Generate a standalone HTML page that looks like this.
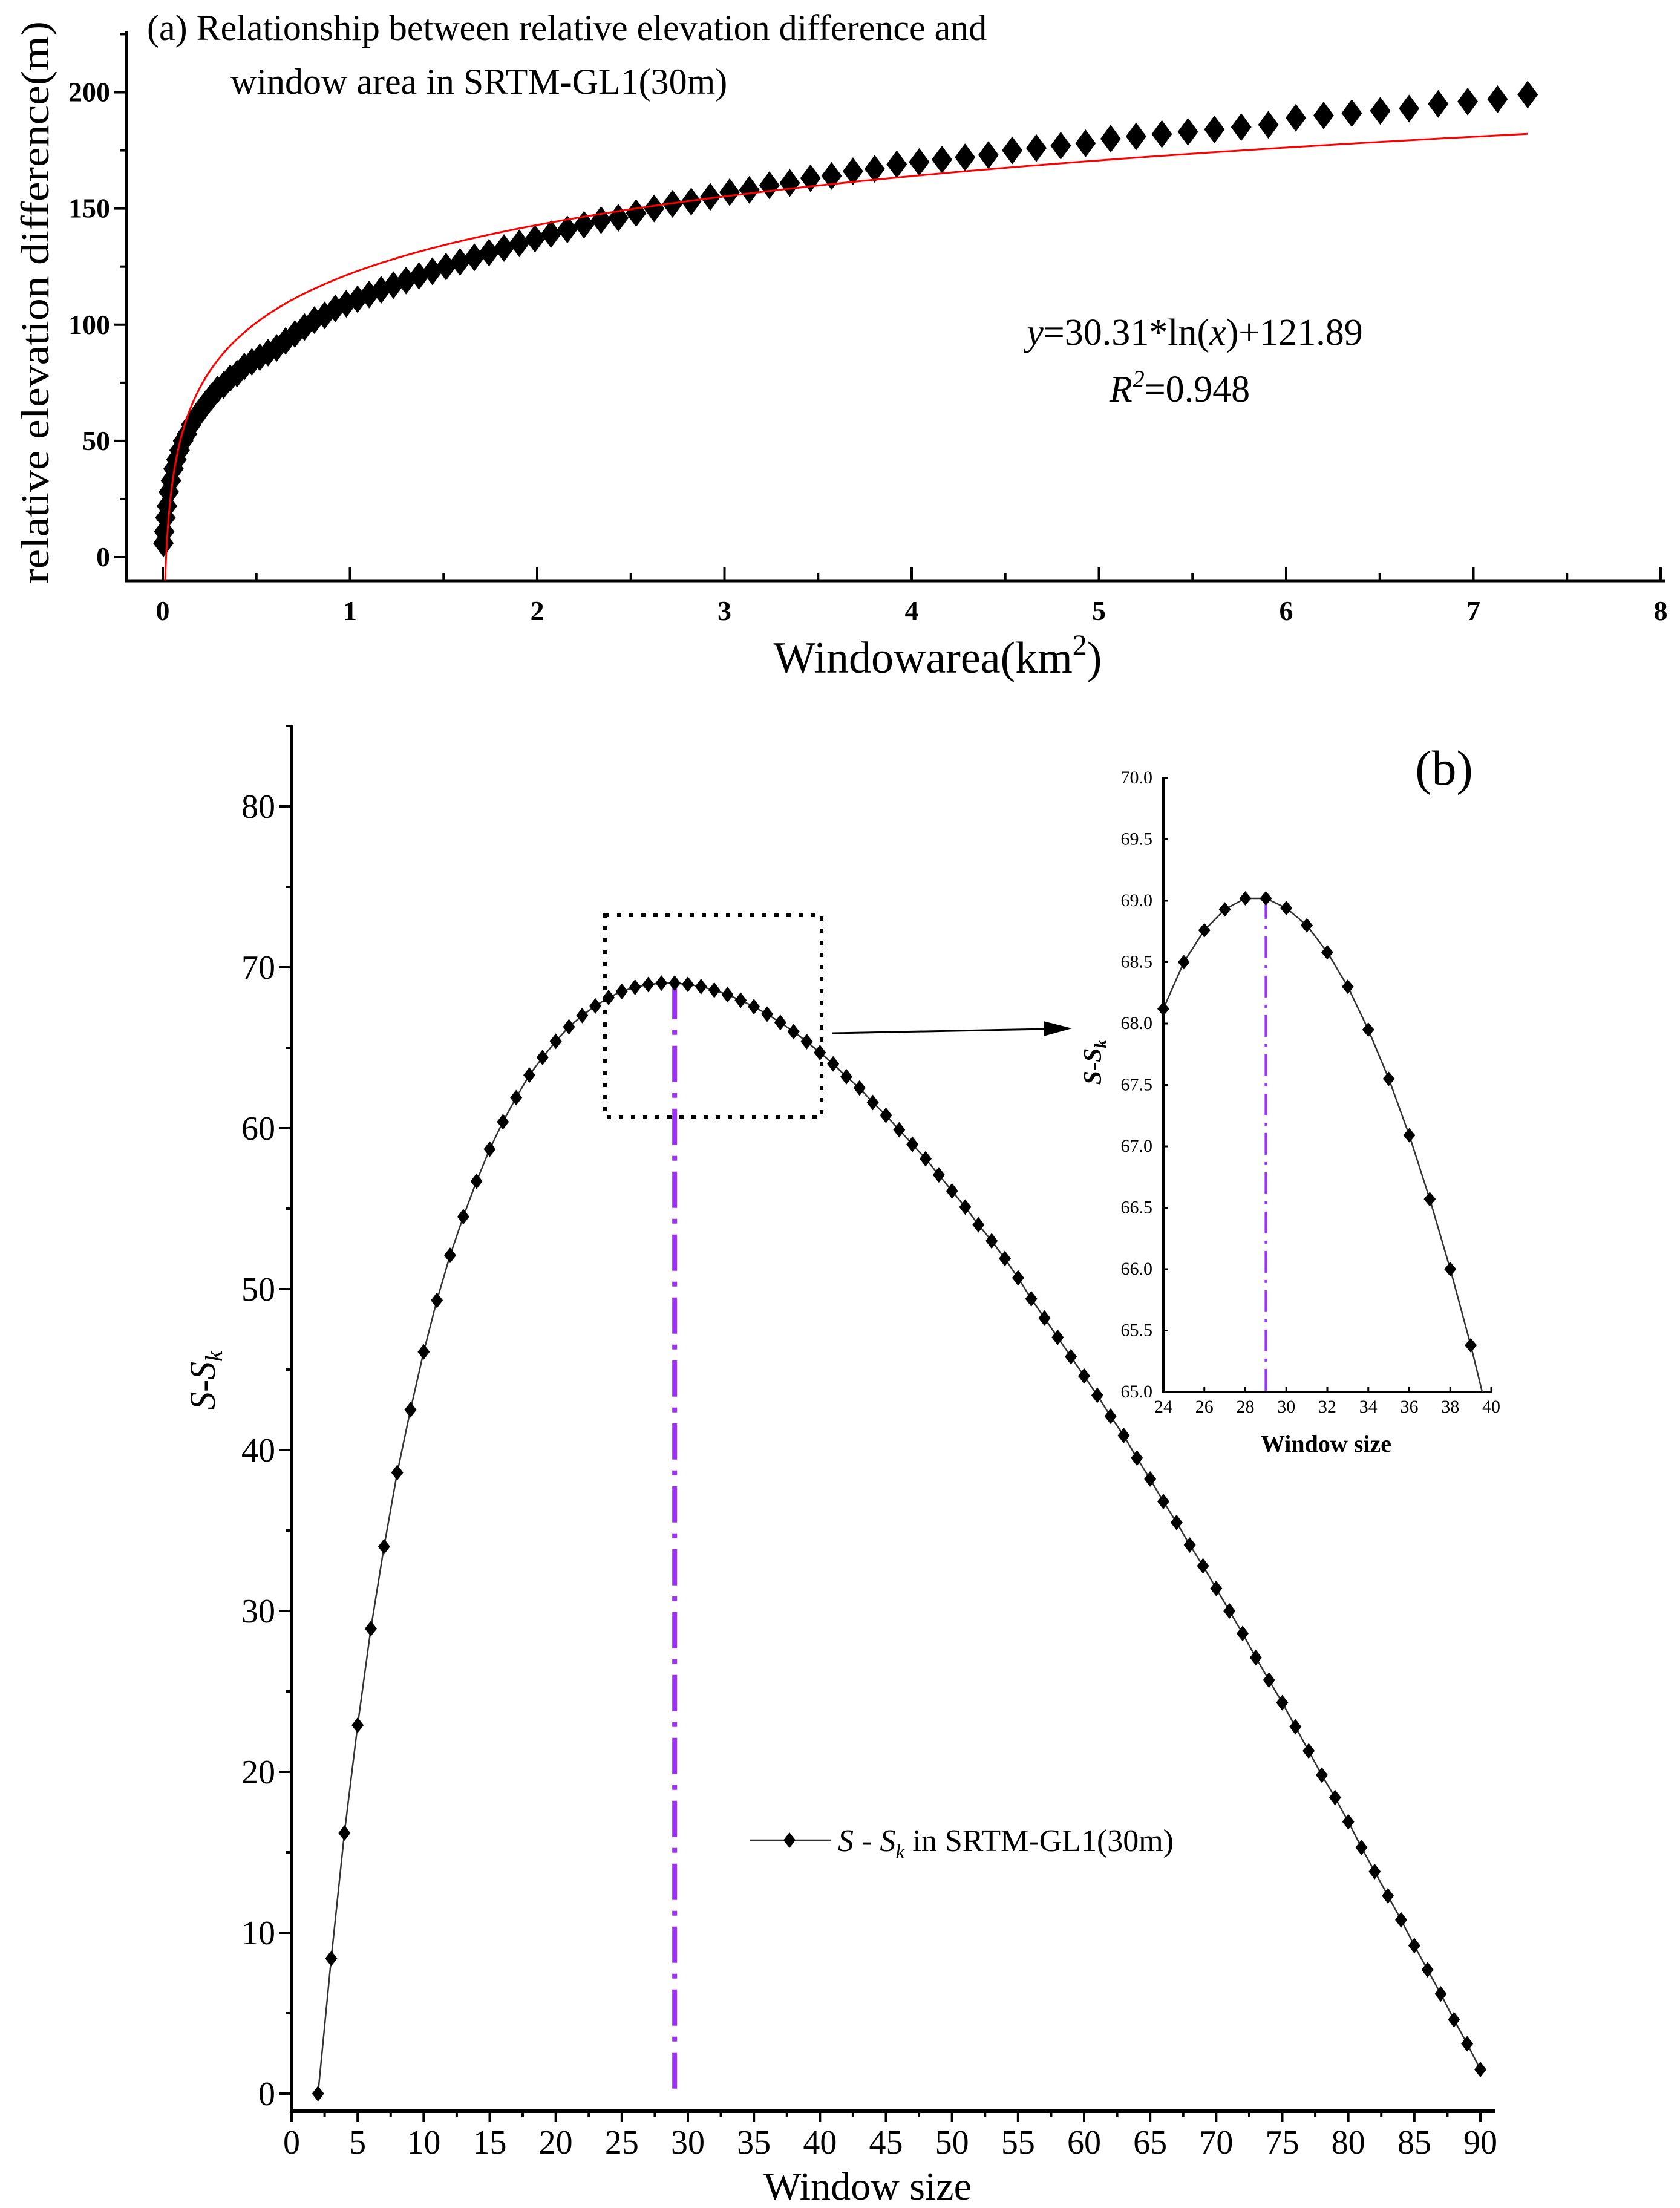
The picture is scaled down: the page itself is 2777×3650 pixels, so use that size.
<!DOCTYPE html>
<html><head><meta charset="utf-8"><style>
html,body{margin:0;padding:0;background:#fff}
svg{display:block;font-family:"Liberation Serif",serif}
</style></head><body>
<svg id="chart" width="2777" height="3650" viewBox="0 0 2777 3650" xmlns="http://www.w3.org/2000/svg">
<rect width="2777" height="3650" fill="#fff"/>
<g id="pa"></g>
<g id="pb"></g>
<g id="pi"></g>
</svg>
<script>
// Panel (a) data: window size n (cells of 30m), relative elevation difference
const aWindowN = [];
for (let n = 2; n <= 90; n++) aWindowN.push(n);
const aElev = [6,11,17,22,28,33,38,42,46,50,53,57,60,63,66,69,72,74,77,79,82,84,86,88,90,93,96,99,102,104,107,109,111,113,115,117,119,121,123,125,127,129,131,133,135,137,139,141,143,145,146,148,150,152,153,155,157,158,160,161,163,164,166,167,169,170,171,172,173,175,176,177,178,180,181,182,183,184,185,186,189,190,191,192,193,195,196,197,199];
const aFitCoef = [30.31, 121.89];
const aXTicks = [0,1,2,3,4,5,6,7,8];
const aYTicks = [0,50,100,150,200];
// Panel (b) data
const bWindow = [];
for (let n = 2; n <= 90; n++) bWindow.push(n);
const bValues = [0,8.4,16.2,22.9,28.9,34.0,38.6,42.5,46.1,49.3,52.1,54.5,56.7,58.7,60.4,61.9,63.3,64.4,65.4,66.3,67.0,67.6,68.12,68.5,68.76,68.93,69.02,69.02,68.94,68.8,68.58,68.3,67.95,67.55,67.09,66.57,66.0,65.38,64.7,64.0,63.2,62.5,61.6,60.8,59.9,59.0,58.1,57.1,56.1,55.1,54.0,53.0,51.9,50.7,49.4,48.2,47.0,45.8,44.6,43.4,42.1,40.9,39.5,38.2,36.8,35.5,34.1,32.8,31.4,30.0,28.6,27.1,25.7,24.3,22.8,21.3,19.8,18.4,16.9,15.3,13.8,12.3,10.8,9.2,7.7,6.2,4.6,3.1,1.5];
const bXTicks = [0,5,10,15,20,25,30,35,40,45,50,55,60,65,70,75,80,85,90];
const bYTicks = [0,10,20,30,40,50,60,70,80];
const bPeak = [29];
const iXTicks = [24,26,28,30,32,34,36,38,40];
const iYTicks = [65.0,65.5,66.0,66.5,67.0,67.5,68.0,68.5,69.0,69.5,70.0];

const NS = "http://www.w3.org/2000/svg";
function mk(parent, tag, attrs, text){
  const e = document.createElementNS(NS, tag);
  for (const k in attrs) e.setAttribute(k, attrs[k]);
  if (text !== undefined) e.textContent = text;
  parent.appendChild(e);
  return e;
}
function diamond(cx, cy, w, h){
  return `M${cx},${cy-h/2} L${cx+w/2},${cy} L${cx},${cy+h/2} L${cx-w/2},${cy} Z`;
}

// ===== Panel (a) =====
(function(){
  const g = document.getElementById('pa');
  const ax = v => 269 + v * (2745 - 269) / 8;
  const ay = v => 921 - v * (921 - 152.5) / 200;
  let e = mk(g,'line',{x1:209,y1:51,x2:209,y2:960,stroke:'#000','stroke-width':5});
   
  e = mk(g,'line',{x1:207,y1:960,x2:2752,y2:960,stroke:'#000','stroke-width':5});
   
  for (let v = 0; v <= 225; v += 25){
    const major = v % 50 === 0;
    mk(g,'line',{x1:209,y1:ay(v),x2:209-(major?20:11),y2:ay(v),stroke:'#000','stroke-width':4});
  }
  aYTicks.forEach(v=>{
    const t = mk(g,'text',{x:182,y:ay(v)+15,'text-anchor':'end','font-size':46,'font-weight':'bold'},String(v));
     
  });
  for (let v = 0; v <= 8; v += 0.5){
    const major = Math.abs(v - Math.round(v)) < 1e-6;
    mk(g,'line',{x1:ax(v),y1:960,x2:ax(v),y2:960-(major?22:12),stroke:'#000','stroke-width':4});
  }
  aXTicks.forEach(v=>{
    const t = mk(g,'text',{x:ax(v),y:1025,'text-anchor':'middle','font-size':46,'font-weight':'bold'},String(v));
     
  });
  let t = mk(g,'text',{x:1550,y:1112,'text-anchor':'middle','font-size':74});
   
  t.innerHTML = 'Windowarea(km<tspan dy="-30" font-size="48">2</tspan><tspan dy="30">)</tspan>';
  t = mk(g,'text',{x:0,y:0,'text-anchor':'middle','font-size':66,textLength:930,lengthAdjust:'spacingAndGlyphs',transform:'translate(80,500) rotate(-90)'},'relative elevation difference(m)');
   
  t = mk(g,'text',{x:243,y:66,'font-size':60},'(a) Relationship between relative elevation difference and');
   
  t = mk(g,'text',{x:381,y:155,'font-size':60},'window area in SRTM-GL1(30m)');
   
  t = mk(g,'text',{x:1975,y:570,'text-anchor':'middle','font-size':62});
   
  t.innerHTML = '<tspan font-style="italic">y</tspan>=30.31*ln(<tspan font-style="italic">x</tspan>)+121.89';
  t = mk(g,'text',{x:1950,y:664,'text-anchor':'middle','font-size':62});
   
  t.innerHTML = '<tspan font-style="italic">R</tspan><tspan dy="-24" font-size="40" font-style="italic">2</tspan><tspan dy="24">=0.948</tspan>';
  const mg = mk(g,'g',{});
   
  aWindowN.forEach((n,i)=>{
    const x = Math.pow(n*0.03,2);
    const p = mk(mg,'path',{d:diamond(ax(x),ay(aElev[i]),34,46),fill:'#000'});
     
  });
  let d = '';
  const xmax = Math.pow(aWindowN[aWindowN.length-1]*0.03,2);
  const yBottom = -10;
  const xStart = Math.exp((yBottom - aFitCoef[1])/aFitCoef[0]);
  for (let k = 0; k <= 600; k++){
    const x = xStart * Math.pow(xmax/xStart, k/600);
    const y = aFitCoef[0]*Math.log(x)+aFitCoef[1];
    d += (k?'L':'M') + ax(x).toFixed(2) + ',' + ay(y).toFixed(2) + ' ';
  }
  const fc = mk(g,'path',{d:d,fill:'none',stroke:'#ff0000','stroke-width':3});
   
})();

// ===== Panel (b) =====
(function(){
  const g = document.getElementById('pb');
  const bx = v => 482 + v * (2447 - 482) / 90;
  const by = v => 3461 - v * (3461 - 1333) / 80;
  let e = mk(g,'line',{x1:482,y1:1198,x2:482,y2:3492,stroke:'#000','stroke-width':6});
   
  e = mk(g,'line',{x1:479,y1:3490,x2:2472,y2:3490,stroke:'#000','stroke-width':6});
   
  for (let v = 0; v <= 85; v += 5){
    const major = v % 10 === 0;
    mk(g,'line',{x1:482,y1:by(v),x2:482-(major?20:10),y2:by(v),stroke:'#000','stroke-width':4});
  }
  bYTicks.forEach(v=>{
    const t = mk(g,'text',{x:455,y:by(v)+19,'text-anchor':'end','font-size':56},String(v));
     
  });
  for (let v = 0; v <= 90; v += 2.5){
    const major = v % 5 === 0;
    mk(g,'line',{x1:bx(v),y1:3490,x2:bx(v),y2:3490+(major?18:10),stroke:'#000','stroke-width':4});
  }
  bXTicks.forEach(v=>{
    const t = mk(g,'text',{x:bx(v),y:3560,'text-anchor':'middle','font-size':56},String(v));
     
  });
  let t = mk(g,'text',{x:1434,y:3636,'text-anchor':'middle','font-size':66},'Window size');
   
  t = mk(g,'text',{x:0,y:0,'text-anchor':'middle','font-size':60,transform:'translate(355,2282) rotate(-90)'});
   
  t.innerHTML = '<tspan font-style="italic">S</tspan>-<tspan font-style="italic">S</tspan><tspan font-style="italic" font-size="40" dy="12">k</tspan>';
  t = mk(g,'text',{x:2387,y:1297,'text-anchor':'middle','font-size':82},'(b)');
   
  const pl = mk(g,'line',{x1:bx(bPeak[0]),y1:by(69.03),x2:bx(bPeak[0]),y2:by(0),stroke:'#9b30ff','stroke-width':8,'stroke-dasharray':'60,18,8,18'});
   
  const d = bWindow.map((n,i)=>(i?'L':'M')+bx(n).toFixed(2)+','+by(bValues[i]).toFixed(2)).join(' ');
  const sl = mk(g,'path',{d:d,fill:'none',stroke:'#333','stroke-width':2.5});
   
  const mg = mk(g,'g',{});
   
  bWindow.forEach((n,i)=>{
    const p = mk(mg,'path',{d:diamond(bx(n),by(bValues[i]),20,26),fill:'#000'});
     
  });
  const zb = mk(g,'rect',{x:1000,y:1513,width:358,height:334,fill:'none',stroke:'#000','stroke-width':6,'stroke-dasharray':'7,13'});
   
  const ar = mk(g,'line',{x1:1376,y1:1708,x2:1730,y2:1701,stroke:'#000','stroke-width':3});
   
  const ah = mk(g,'path',{d:'M1772,1700 L1725,1688 L1725,1713 Z',fill:'#000'});
   
  const lg = mk(g,'g',{});
   
  mk(lg,'line',{x1:1240,y1:3042,x2:1373,y2:3042,stroke:'#333','stroke-width':2.5});
  mk(lg,'path',{d:diamond(1305,3042,20,26),fill:'#000'});
  const lt = mk(lg,'text',{x:1385,y:3060,'font-size':52});
  lt.innerHTML = '<tspan font-style="italic">S</tspan> - <tspan font-style="italic">S</tspan><tspan font-style="italic" font-size="34" dy="12">k</tspan><tspan dy="-12"> in SRTM-GL1(30m)</tspan>';
})();

// ===== Inset =====
(function(){
  const g = document.getElementById('pi');
  const ix = v => 1923 + (v - 24) * (2465 - 1923) / 16;
  const iy = v => 2301 - (v - 65) * (2301 - 1286) / 5;
  let e = mk(g,'line',{x1:1923,y1:1284,x2:1923,y2:2303,stroke:'#000','stroke-width':4});
   
  e = mk(g,'line',{x1:1921,y1:2301,x2:2467,y2:2301,stroke:'#000','stroke-width':4});
   
  iYTicks.forEach(v=>{
    mk(g,'line',{x1:1923,y1:iy(v),x2:1931,y2:iy(v),stroke:'#000','stroke-width':3});
    const t = mk(g,'text',{x:1905,y:iy(v)+9,'text-anchor':'end','font-size':30},v.toFixed(1));
     
  });
  iXTicks.forEach(v=>{
    mk(g,'line',{x1:ix(v),y1:2301,x2:ix(v),y2:2293,stroke:'#000','stroke-width':3});
    const t = mk(g,'text',{x:ix(v),y:2335,'text-anchor':'middle','font-size':30},String(v));
     
  });
  let t = mk(g,'text',{x:2192,y:2400,'text-anchor':'middle','font-size':40,'font-weight':'bold'},'Window size');
   
  t = mk(g,'text',{x:0,y:0,'text-anchor':'middle','font-size':42,'font-weight':'bold',transform:'translate(1820,1756) rotate(-90)'});
   
  t.innerHTML = '<tspan font-style="italic">S</tspan>-<tspan font-style="italic">S</tspan><tspan font-style="italic" font-size="28" dy="9">k</tspan>';
  const cp = mk(g,'clipPath',{id:'iclip'});
  mk(cp,'rect',{x:1923,y:1286,width:545,height:1015});
  const pl = mk(g,'line',{x1:ix(bPeak[0]),y1:iy(69.03),x2:ix(bPeak[0]),y2:iy(65),stroke:'#9b30ff','stroke-width':4,'stroke-dasharray':'36,12,5,12'});
   
  const sel = [];
  bWindow.forEach((n,i)=>{ if (n >= 24 && n <= 40) sel.push([n,bValues[i]]); });
  const d = sel.map((p,i)=>(i?'L':'M')+ix(p[0]).toFixed(2)+','+iy(p[1]).toFixed(2)).join(' ');
  const ln = mk(g,'path',{d:d,fill:'none',stroke:'#333','stroke-width':2.5,'clip-path':'url(#iclip)'});
   
  sel.forEach(p=>{
    if (p[1] < 65) return;
    const m = mk(g,'path',{d:diamond(ix(p[0]),iy(p[1]),20,24),fill:'#000'});
     
  });
})();
</script>
</body></html>
